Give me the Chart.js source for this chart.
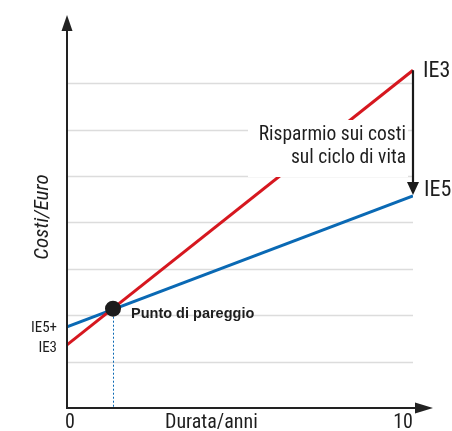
<!DOCTYPE html>
<html>
<head>
<meta charset="utf-8">
<script src="https://cdn.jsdelivr.net/npm/chart.js@4/dist/chart.umd.min.js"></script>
<style>
html,body{margin:0;padding:0;background:#fff;}
#c{display:block;}
</style>
</head>
<body>
<canvas id="c" width="452" height="431"></canvas>
<script>
const years = [0, 10];
const costIE3 = [1.36, 7.28];
const costIE5 = [1.75, 4.57];
const breakEvenYear = [1.33];
const breakEvenCost = [2.14];
const gridValues = [1, 2, 3, 4, 5, 6, 7];
const xTickValues = [0, 10];
const xTickLabels = ['0', '10'];
const yStartLabels = ['IE5+', 'IE3'];
const endLabels = ['IE3', 'IE5'];
const savingsText = ['Risparmio sui costi', 'sul ciclo di vita'];

const NARROW = "'Liberation Sans Narrow','Arial Narrow','Roboto Condensed',sans-serif";
const RED = '#d6171f';
const BLUE = '#0a69b4';
const AXIS = '#222222';

const toPts = (xs, ys) => xs.map((x, i) => ({x, y: ys[i]}));

const overlay = {
  id: 'overlay',
  beforeDatasetsDraw(chart) {
    const {ctx, chartArea: a, scales: {x, y}} = chart;
    ctx.save();
    ctx.strokeStyle = '#dcdcdc';
    ctx.lineWidth = 1.5;
    gridValues.forEach(v => {
      const py = Math.round(y.getPixelForValue(v)) + 0.5;
      ctx.beginPath();
      ctx.moveTo(a.left, py);
      ctx.lineTo(x.getPixelForValue(10), py);
      ctx.stroke();
    });
    const bx = x.getPixelForValue(breakEvenYear[0]);
    const by = y.getPixelForValue(breakEvenCost[0]);
    ctx.strokeStyle = BLUE;
    ctx.lineWidth = 1;
    ctx.setLineDash([2, 2]);
    ctx.beginPath();
    ctx.moveTo(Math.round(bx) + 0.5, by);
    ctx.lineTo(Math.round(bx) + 0.5, a.bottom);
    ctx.stroke();
    ctx.restore();
  },
  afterDatasetsDraw(chart) {
    const {ctx, chartArea: a, scales: {x, y}} = chart;
    ctx.save();
    ctx.fillStyle = '#fff';
    ctx.fillRect(248, 120, 160, 57);
    ctx.strokeStyle = AXIS;
    ctx.fillStyle = AXIS;
    ctx.lineWidth = 2;
    ctx.beginPath();
    ctx.moveTo(a.left, a.bottom + 1);
    ctx.lineTo(a.left, a.top + 14);
    ctx.stroke();
    ctx.beginPath();
    ctx.moveTo(a.left - 5.5, a.top + 16);
    ctx.lineTo(a.left, a.top);
    ctx.lineTo(a.left + 5.5, a.top + 16);
    ctx.closePath();
    ctx.fill();
    ctx.beginPath();
    ctx.moveTo(a.left - 1, a.bottom);
    ctx.lineTo(a.right + 4, a.bottom);
    ctx.stroke();
    ctx.beginPath();
    ctx.moveTo(a.right + 2, a.bottom - 5.5);
    ctx.lineTo(a.right + 20, a.bottom);
    ctx.lineTo(a.right + 2, a.bottom + 5.5);
    ctx.closePath();
    ctx.fill();

    const ex = x.getPixelForValue(years[1]);
    const y3 = y.getPixelForValue(costIE3[1]);
    const y5 = y.getPixelForValue(costIE5[1]);
    ctx.strokeStyle = '#1a1a1a';
    ctx.fillStyle = '#1a1a1a';
    ctx.lineWidth = 2.2;
    ctx.beginPath();
    ctx.moveTo(ex, y3);
    ctx.lineTo(ex, y5 - 12);
    ctx.stroke();
    ctx.beginPath();
    ctx.moveTo(ex - 6, y5 - 14);
    ctx.lineTo(ex, y5 - 1);
    ctx.lineTo(ex + 6, y5 - 14);
    ctx.closePath();
    ctx.fill();

    ctx.fillStyle = '#1e1e1e';
    ctx.textBaseline = 'middle';
    ctx.font = '22px ' + NARROW;
    ctx.textAlign = 'left';
    ctx.fillText(endLabels[0], ex + 10, y3 + 1);
    ctx.fillText(endLabels[1], ex + 11, y5 - 5);

    ctx.font = '19.5px ' + NARROW;
    ctx.textAlign = 'right';
    ctx.fillText(savingsText[0], 406, 135);
    ctx.fillText(savingsText[1], 406, 158);

    ctx.font = '20px ' + NARROW;
    ctx.textAlign = 'center';
    xTickValues.forEach((v, i) => {
      ctx.fillText(xTickLabels[i], x.getPixelForValue(v) + (i === 0 ? 3 : -10), a.bottom + 15);
    });
    ctx.textAlign = 'left';
    ctx.fillText('Durata/anni', 165, a.bottom + 15);

    ctx.save();
    ctx.translate(43, 217);
    ctx.rotate(-Math.PI / 2);
    ctx.textAlign = 'center';
    ctx.font = 'italic 21px ' + NARROW;
    ctx.fillText('Costi/Euro', 0, 0);
    ctx.restore();

    ctx.font = '15px ' + NARROW;
    ctx.textAlign = 'right';
    ctx.fillText(yStartLabels[0], 57, y.getPixelForValue(costIE5[0]) + 1);
    ctx.fillText(yStartLabels[1], 57, y.getPixelForValue(costIE3[0]) + 3);

    const bx = x.getPixelForValue(breakEvenYear[0]);
    const by = y.getPixelForValue(breakEvenCost[0]);
    ctx.font = 'bold 14.5px "Liberation Sans", Arial, sans-serif';
    const tw = ctx.measureText('Punto di pareggio').width;
    ctx.fillStyle = '#fff';
    ctx.fillRect(bx + 17, by - 2, tw + 4, 6);
    ctx.fillStyle = '#1e1e1e';
    ctx.textAlign = 'left';
    ctx.fillText('Punto di pareggio', bx + 18, by + 5);
    ctx.restore();
  }
};

new Chart(document.getElementById('c'), {
  type: 'scatter',
  data: {
    datasets: [
      {data: toPts(years, costIE3), showLine: true, borderColor: RED, borderWidth: 3, pointRadius: 0, order: 2},
      {data: toPts(years, costIE5), showLine: true, borderColor: BLUE, borderWidth: 3, pointRadius: 0, order: 2},
      {data: toPts(breakEvenYear, breakEvenCost), showLine: false, pointRadius: 8,
       pointBackgroundColor: '#1c1c1c', pointBorderColor: '#1c1c1c', pointBorderWidth: 0, order: 1}
    ]
  },
  options: {
    responsive: false,
    animation: false,
    devicePixelRatio: 1,
    layout: {padding: {left: 67, right: 39, top: 15, bottom: 23}},
    plugins: {legend: {display: false}, tooltip: {enabled: false}},
    scales: {
      x: {type: 'linear', min: 0, max: 10, display: false},
      y: {type: 'linear', min: 0, max: 8.47, display: false}
    }
  },
  plugins: [overlay]
});
</script>
</body>
</html>
